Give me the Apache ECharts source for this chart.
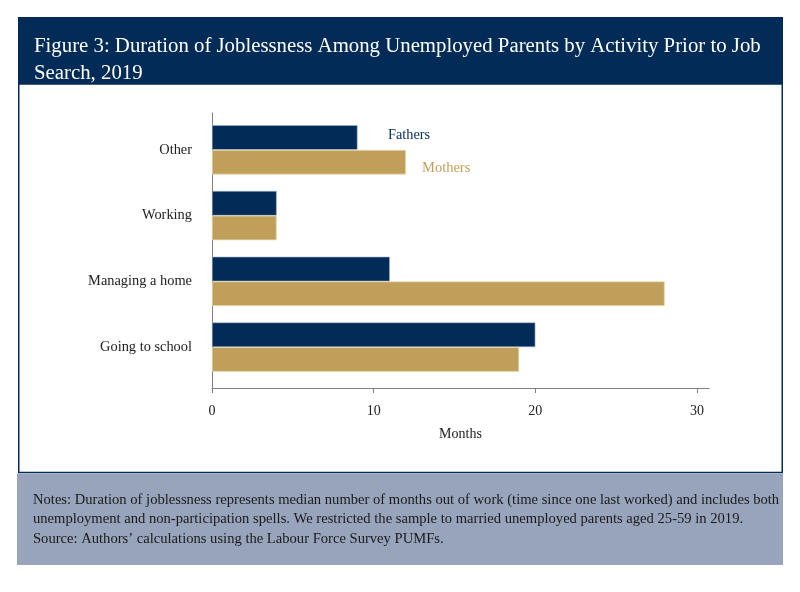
<!DOCTYPE html>
<html>
<head>
<meta charset="utf-8">
<script src="https://cdn.jsdelivr.net/npm/echarts@6/dist/echarts.min.js"></script>
<style>
html,body{margin:0;padding:0;background:#fff;}
#chart{width:800px;height:592px;}
</style>
</head>
<body>
<div id="chart"></div>
<script>
const categories = ['Other', 'Working', 'Managing a home', 'Going to school'];
const fathers = [9, 4, 11, 20];
const mothers = [12, 4, 28, 19];
const tickValues = [0, 10, 20, 30];

const NAVY = '#022c57';
const GOLD = '#bf9f5a';
const FONT = '"Liberation Serif", "DejaVu Serif", serif';

const chart = echarts.init(document.getElementById('chart'));
chart.setOption({
  animation: false,
  backgroundColor: '#fff',
  title: {
    text: 'Figure 3: Duration of Joblessness Among Unemployed Parents by Activity Prior to Job\nSearch, 2019',
    left: 29, top: 28,
    textStyle: {color: '#fff', fontFamily: FONT, fontSize: 20.8, fontWeight: 'normal', lineHeight: 27}
  },
  graphic: [
    {type: 'rect', z: -10, shape: {x: 18, y: 17, width: 765, height: 67}, style: {fill: NAVY}},
    {type: 'rect', z: -10, shape: {x: 18.75, y: 84, width: 763.5, height: 388.5}, style: {fill: '#fff', stroke: NAVY, lineWidth: 1.5}},
    {type: 'rect', z: -10, shape: {x: 17, y: 473.5, width: 766, height: 91.5}, style: {fill: '#97a4bc'}},
    {type: 'text', left: 33, top: 490, style: {
      text: 'Notes: Duration of joblessness represents median number of months out of work (time since one last worked) and includes both\nunemployment and non-participation spells. We restricted the sample to married unemployed parents aged 25-59 in 2019.\nSource: Authors\u2019 calculations using the Labour Force Survey PUMFs.',
      font: '14.6px ' + FONT, fill: '#1a1a1a', lineHeight: 19.5
    }}
  ],
  legend: [
    {data: ['Fathers'], left: 377, top: 123, itemWidth: 0, itemHeight: 0, selectedMode: false,
     textStyle: {color: NAVY, fontFamily: FONT, fontSize: 14.3}},
    {data: ['Mothers'], left: 411, top: 156, itemWidth: 0, itemHeight: 0, selectedMode: false,
     textStyle: {color: GOLD, fontFamily: FONT, fontSize: 14.5}}
  ],
  grid: [
    {left: 212, right: 91, top: 113, height: 275},
    {left: 212, right: 91, top: 117, height: 263}
  ],
  xAxis: [
    {type: 'value', gridIndex: 0, min: 0, max: 30.74,
     axisLine: {show: true, lineStyle: {color: '#808080', width: 1}},
     axisTick: {show: true, length: 5, customValues: tickValues, lineStyle: {color: '#808080'}},
     axisLabel: {customValues: tickValues, color: '#222', fontFamily: FONT, fontSize: 14, margin: 16},
     splitLine: {show: false},
     name: 'Months', nameLocation: 'middle', nameGap: 39,
     nameTextStyle: {color: '#222', fontFamily: FONT, fontSize: 14}},
    {type: 'value', gridIndex: 1, min: 0, max: 30.74, show: false, splitLine: {show: false}}
  ],
  yAxis: [
    {type: 'value', gridIndex: 0, min: 0, max: 1,
     axisLine: {show: true, lineStyle: {color: '#808080', width: 1}},
     axisTick: {show: false}, axisLabel: {show: false}, splitLine: {show: false}},
    {type: 'category', gridIndex: 1, data: categories, inverse: true,
     axisLine: {show: false}, axisTick: {show: false},
     axisLabel: {color: '#222', fontFamily: FONT, fontSize: 14.4, margin: 20, padding: [3, 0, 0, 0]}}
  ],
  series: [
    {name: 'Fathers', type: 'bar', xAxisIndex: 1, yAxisIndex: 1, data: fathers,
     barGap: '0%', barCategoryGap: '25%',
     itemStyle: {color: NAVY, borderColor: '#9fb3cc', borderWidth: 0.6}},
    {name: 'Mothers', type: 'bar', xAxisIndex: 1, yAxisIndex: 1, data: mothers,
     barGap: '0%', barCategoryGap: '25%',
     itemStyle: {color: GOLD, borderColor: '#ead9ae', borderWidth: 0.8}}
  ]
});
</script>
</body>
</html>
